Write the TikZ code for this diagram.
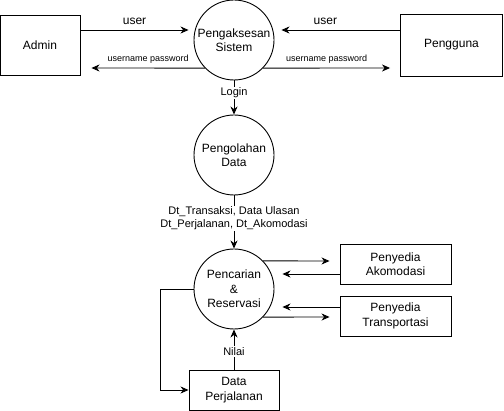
\documentclass[tikz,border=0pt]{standalone}
\usepackage{fontspec}
\setmainfont{Liberation Sans}
\usetikzlibrary{arrows.meta}
\begin{document}
\begin{tikzpicture}[x=1pt,y=-1pt,
  every node/.style={font=\fontsize{12}{14.5}\selectfont},
  proc/.style={draw,line width=0.9pt,circle,minimum size=80pt,inner sep=0pt,align=center},
  ent/.style={draw,line width=0.9pt,rectangle,inner sep=0pt,align=center},
  arr/.style={line width=0.9pt,-{Stealth[length=8pt,width=7pt,inset=2.5pt]}},
  lbl/.style={font=\fontsize{12}{14}\selectfont,inner sep=1pt},
  slbl/.style={font=\fontsize{9}{10}\selectfont,inner sep=1pt},
  mlbl/.style={font=\fontsize{11}{13}\selectfont,inner sep=1pt,fill=white,align=center}]
\useasboundingbox (0,0) rectangle (504,411);
% nodes
\node[ent,minimum width=80pt,minimum height=60pt] (admin) at (40,45) {Admin};
\node[ent,minimum width=102pt,minimum height=62pt] (peng) at (451.5,45) {Pengguna};
\node[proc] (sys) at (234,40) {Pengaksesan\\Sistem};
\node[proc] (olah) at (234,155) {Pengolahan\\Data};
\node[proc] (srch) at (234,289) {Pencarian\\\&\\Reservasi};
\node[ent,minimum width=111pt,minimum height=40pt] (akom) at (395.5,264) {Penyedia\\Akomodasi};
\node[ent,minimum width=111pt,minimum height=40pt] (trans) at (395.5,316) {Penyedia\\Transportasi};
\node[ent,minimum width=90pt,minimum height=40pt] (dp) at (234,390) {Data\\Perjalanan};
% top connectors
\draw[arr] ([yshift=15pt]admin.east) -- node[lbl,midway,yshift=9pt]{user} ([xshift=-5pt,yshift=10pt]sys.west);
\draw[arr] (sys.224.4) -- node[slbl,midway,yshift=9pt]{username password} ([xshift=11pt,yshift=-23pt]admin.east);
\draw[arr] ([yshift=15pt]peng.west) -- node[lbl,pos=0.63,yshift=9pt]{user} ([xshift=7pt,yshift=10pt]sys.east);
\draw[arr] (sys.-44.4) -- node[slbl,midway,yshift=9pt]{username password} ([xshift=-10pt,yshift=-23pt]peng.west);
\draw[arr] (sys.south) -- node[mlbl,pos=0.37]{Login} (olah.north);
\draw[arr] (olah.south) -- node[mlbl,pos=0.43]{Dt\_Transaksi, Data Ulasan\\Dt\_Perjalanan, Dt\_Akomodasi} (srch.north);
% right connectors
\draw[arr] (srch.44.4) -- ([xshift=-10pt,yshift=3pt]akom.west);
\draw[arr] ([yshift=-10pt]akom.west) -- ([xshift=8pt,yshift=15pt]srch.east);
\draw[arr] ([yshift=9pt]trans.west) -- ([xshift=8pt,yshift=-18pt]srch.east);
\draw[arr] (srch.-44.4) -- ([xshift=-10pt,yshift=-1pt]trans.west);
% bottom
\draw[arr] (dp.north) -- node[mlbl,midway,yshift=-2pt]{Nilai} (srch.south);
\draw[arr] (srch.west) -- ++(-33,0) |- (dp.west);
\end{tikzpicture}
\end{document}
